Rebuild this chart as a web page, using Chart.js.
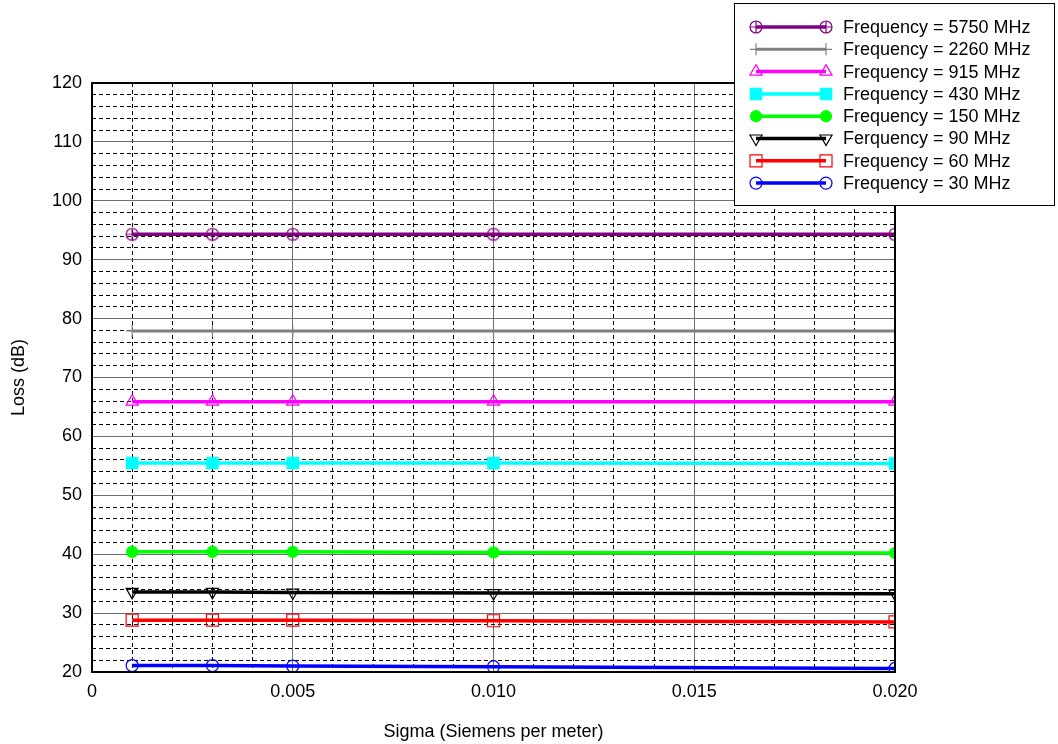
<!DOCTYPE html>
<html>
<head>
<meta charset="utf-8">
<title>Loss vs Sigma</title>
<script src="https://cdn.jsdelivr.net/npm/chart.js@4/dist/chart.umd.min.js"></script>
<style>
  html, body { margin: 0; padding: 0; background: #fff; }
  #wrap { width: 1058px; height: 744px; }
</style>
</head>
<body>
<div id="wrap"><canvas id="lossChart" width="1058" height="744"></canvas></div>
<script>
// ========== DATA ==========
const sigma = [0.001, 0.003, 0.005, 0.010, 0.020];

const loss5750 = [94.3, 94.3, 94.3, 94.3, 94.3];
const loss2260 = [77.9, 77.9, 77.9, 77.9, 77.9];
const loss915  = [65.9, 65.9, 65.9, 65.9, 65.9];
const loss430  = [55.5, 55.5, 55.5, 55.5, 55.4];
const loss150  = [40.4, 40.4, 40.4, 40.3, 40.2];
const loss90   = [33.6, 33.6, 33.5, 33.4, 33.3];
const loss60   = [28.8, 28.8, 28.8, 28.7, 28.5];
const loss30   = [21.1, 21.1, 21.0, 20.9, 20.6];

const seriesLabels = [
  'Frequency = 5750 MHz',
  'Frequency = 2260 MHz',
  'Frequency = 915 MHz',
  'Frequency = 430 MHz',
  'Frequency = 150 MHz',
  'Ferquency = 90 MHz',
  'Frequency = 60 MHz',
  'Frequency = 30 MHz'
];

const yTickLabels = [20, 30, 40, 50, 60, 70, 80, 90, 100, 110, 120];
const xTickLabels = ['0', '0.005', '0.010', '0.015', '0.020'];

const FONT = 'Liberation Sans, Arial, sans-serif';

// ========== MARKERS ==========
// circle with a cross in it (the 5750 MHz marker)
function circleCross(color) {
  const c = document.createElement('canvas');
  c.width = 16; c.height = 16;
  const g = c.getContext('2d');
  g.strokeStyle = color;
  g.lineWidth = 1.2;
  g.beginPath();
  g.arc(8, 8, 6, 0, Math.PI * 2);
  g.moveTo(2, 8); g.lineTo(14, 8);
  g.moveTo(8, 2); g.lineTo(8, 14);
  g.stroke();
  return c;
}

const styles = [
  { color: '#800080', pointStyle: circleCross('#800080'), radius: 6, fill: 'transparent', rot: 0, width: 3.5 },
  { color: '#808080', pointStyle: 'cross', radius: 6, fill: 'transparent', rot: 0, width: 3 },
  { color: '#ff00ff', pointStyle: 'triangle', radius: 7, fill: 'transparent', rot: 0, width: 3.5 },
  { color: '#00ffff', pointStyle: 'rect', radius: 8, fill: '#00ffff', rot: 0, width: 3.5 },
  { color: '#00ff00', pointStyle: 'circle', radius: 5.5, fill: '#00ff00', rot: 0, width: 3.5 },
  { color: '#000000', pointStyle: 'triangle', radius: 7, fill: 'transparent', rot: 180, width: 3.5 },
  { color: '#ff0000', pointStyle: 'rect', radius: 8.5, fill: 'transparent', rot: 0, width: 3.5 },
  { color: '#0000ff', pointStyle: 'circle', radius: 6, fill: 'transparent', rot: 0, width: 3.5 }
];

const allLoss = [loss5750, loss2260, loss915, loss430, loss150, loss90, loss60, loss30];

const datasets = allLoss.map((vals, i) => ({
  label: seriesLabels[i],
  data: sigma.map((s, j) => ({ x: s, y: vals[j] })),
  borderColor: styles[i].color,
  borderWidth: styles[i].width,
  backgroundColor: styles[i].fill,
  pointStyle: styles[i].pointStyle,
  pointRadius: styles[i].radius,
  pointRotation: styles[i].rot,
  pointBorderColor: styles[i].color,
  pointBackgroundColor: styles[i].fill,
  pointBorderWidth: 1.2,
  fill: false,
  tension: 0
}));

// ========== PLUGINS ==========
const frameAndLegend = {
  id: 'frameAndLegend',
  afterDraw(chart) {
    const { ctx, chartArea: a } = chart;
    ctx.save();
    // axes box
    ctx.strokeStyle = '#000';
    ctx.lineWidth = 2;
    ctx.strokeRect(a.left, a.top, a.right - a.left, a.bottom - a.top);

    // legend box (top right, sits over the plot)
    const bx = 734, by = 3, bw = 320, bh = 202;
    ctx.fillStyle = '#fff';
    ctx.fillRect(bx, by, bw, bh);
    ctx.lineWidth = 1;
    ctx.strokeStyle = '#000';
    ctx.strokeRect(bx + 0.5, by + 0.5, bw, bh);

    ctx.font = '18px ' + FONT;
    ctx.textBaseline = 'middle';
    ctx.textAlign = 'left';
    seriesLabels.forEach((lbl, i) => {
      const st = styles[i];
      const y = 27 + i * 22.3;
      ctx.strokeStyle = st.color;
      ctx.lineWidth = st.width;
      ctx.beginPath();
      ctx.moveTo(756, y);
      ctx.lineTo(826, y);
      ctx.stroke();
      ctx.lineWidth = 1.2;
      ctx.fillStyle = st.fill;
      [756, 826].forEach(px => {
        Chart.helpers.drawPoint(ctx, {
          pointStyle: st.pointStyle, radius: st.radius, rotation: st.rot, borderWidth: 1.2
        }, px, y);
      });
      ctx.fillStyle = '#000';
      ctx.fillText(lbl, 843, y + 1);
    });
    ctx.restore();
  }
};

// ========== CHART ==========
const isMajorY = v => v % 10 === 0;
const isMajorX = v => Math.round(v * 1000) % 5 === 0;

new Chart(document.getElementById('lossChart'), {
  type: 'line',
  data: { datasets },
  options: {
    responsive: false,
    animation: false,
    layout: { padding: { top: 83, right: 163, left: 0, bottom: 0 } },
    plugins: { legend: { display: false }, tooltip: { enabled: false } },
    scales: {
      x: {
        type: 'linear',
        min: 0,
        max: 0.02,
        afterFit: s => { s.height = 72; },
        grid: {
          drawTicks: false,
          lineWidth: 1,
          color: c => isMajorX(c.tick.value) ? '#6e6e6e' : '#000'
        },
        border: { display: false, dash: c => isMajorX(c.tick.value) ? [] : [4, 3] },
        ticks: {
          stepSize: 0.001,
          autoSkip: false,
          maxRotation: 0,
          padding: 9,
          color: '#000',
          font: { size: 18, family: FONT },
          callback: v => {
            if (!isMajorX(v)) return '';
            return xTickLabels[Math.round(v * 1000) / 5];
          }
        },
        title: {
          display: true,
          text: 'Sigma (Siemens per meter)',
          color: '#000',
          font: { size: 18, family: FONT },
          padding: { top: 0, bottom: 1 }
        }
      },
      y: {
        min: 20,
        max: 120,
        afterFit: s => { s.width = 92; },
        grid: {
          drawTicks: false,
          lineWidth: 1,
          color: c => isMajorY(c.tick.value) ? '#6e6e6e' : '#000'
        },
        border: { display: false, dash: c => isMajorY(c.tick.value) ? [] : [4, 3] },
        ticks: {
          stepSize: 2,
          autoSkip: false,
          padding: 10,
          color: '#000',
          font: { size: 18, family: FONT },
          callback: v => yTickLabels.includes(v) ? String(v) : ''
        },
        title: {
          display: true,
          text: 'Loss (dB)',
          color: '#000',
          font: { size: 18, family: FONT },
          padding: { top: 8, bottom: 0 }
        }
      }
    }
  },
  plugins: [frameAndLegend]
});
</script>
</body>
</html>
